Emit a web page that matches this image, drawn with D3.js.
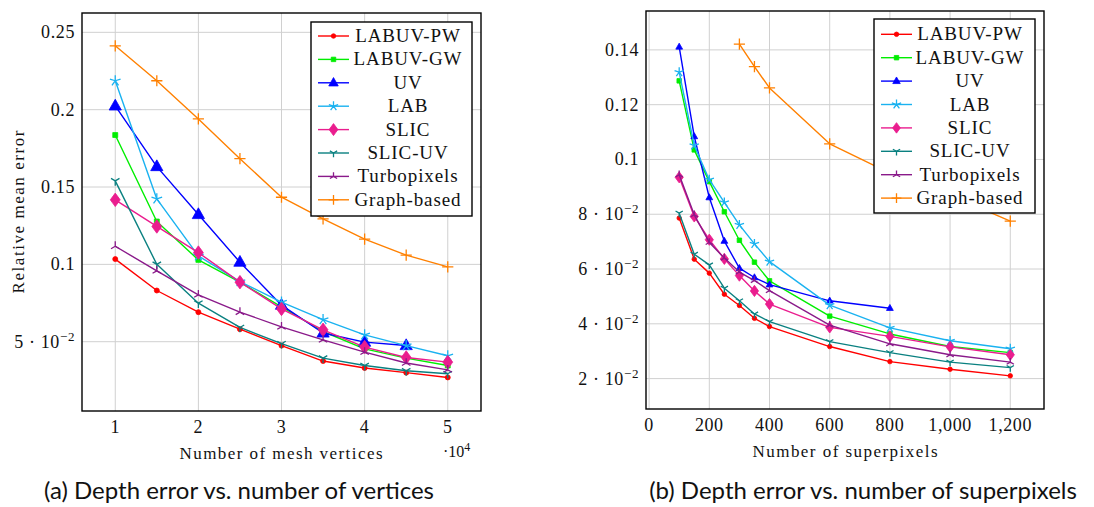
<!DOCTYPE html>
<html><head><meta charset="utf-8">
<script src="https://cdn.jsdelivr.net/npm/d3@7"></script>
<style>
body{margin:0;background:#fff;}
svg{display:block;}
text{font-family:"Liberation Serif","DejaVu Serif",serif;fill:#111;}
</style></head><body>
<svg id="c" width="1094" height="507"></svg>
<script>
// ---------- DATA ----------
const seriesNames = ["LABUV-PW","LABUV-GW","UV","LAB","SLIC","SLIC-UV","Turbopixels","Graph-based"];

// Panel (a): x in units of 10^4 mesh vertices
const verticesX = [1,1.5,2,2.5,3,3.5,4,4.5,5];
const vLabuvPW   = [0.1034,0.0831,0.0691,0.0581,0.0475,0.0375,0.0330,0.0300,0.0269];
const vLabuvGW   = [0.1836,0.1277,0.1029,0.0885,0.0725,0.0566,0.0454,0.0394,0.0346];
const vUV        = [0.2024,0.1632,0.1322,0.1014,0.0736,0.0556,0.0497,0.0475];
const vLAB       = [0.2187,0.1423,0.1055,0.0889,0.0756,0.0643,0.0544,0.0475,0.0409];
const vSLIC      = [0.1417,0.1245,0.1076,0.0885,0.0712,0.0577,0.0465,0.0398,0.0368];
const vSLICUV    = [0.1540,0.1000,0.0749,0.0592,0.0487,0.0394,0.0346,0.0312,0.0293];
const vTurbo     = [0.1117,0.0958,0.0803,0.0691,0.0596,0.0512,0.0433,0.0362,0.0318];
const vGraph     = [0.2413,0.2187,0.1940,0.1683,0.1434,0.1294,0.1163,0.1060,0.0984];

// Panel (b): x = number of superpixels
const spX      = [100,150,200,250,300,350,400,600,800,1000,1200];
const spGraphX = [300,350,400,600,800,1000,1200];
const sLabuvPW = [0.0786,0.0636,0.0585,0.0508,0.0467,0.0420,0.0390,0.0317,0.0262,0.0234,0.0210];
const sLabuvGW = [0.1287,0.1035,0.0919,0.0809,0.0705,0.0625,0.0557,0.0428,0.0363,0.0317,0.0295];
const sUV      = [0.1411,0.1084,0.0861,0.0702,0.0603,0.0569,0.0543,0.0484,0.0457];
const sLAB     = [0.1319,0.1051,0.0926,0.0843,0.0761,0.0692,0.0627,0.0468,0.0385,0.0338,0.0309];
const sSLIC    = [0.0935,0.0792,0.0707,0.0637,0.0576,0.0520,0.0472,0.0387,0.0354,0.0316,0.0287];
const sSLICUV  = [0.0804,0.0654,0.0615,0.0530,0.0484,0.0436,0.0408,0.0335,0.0295,0.0260,0.0240];
const sTurbo   = [0.0944,0.0798,0.0697,0.0640,0.0589,0.0558,0.0521,0.0395,0.0327,0.0287,0.0260];
const sGraph   = [0.1421,0.1339,0.1261,0.1057,0.0950,0.0870,0.0775];

// Tick values / labels
const aXTicks = [1,2,3,4,5];
const aYTicks = [0.05,0.1,0.15,0.2,0.25];
const aYLabels = [["5 · 10","−2"],["0.1"],["0.15"],["0.2"],["0.25"]];
const bXTicks = [0,200,400,600,800,1000,1200];
const bXLabels = ["0","200","400","600","800","1,000","1,200"];
const bYTicks = [0.02,0.04,0.06,0.08,0.1,0.12,0.14];
const bYLabels = [["2 · 10","−2"],["4 · 10","−2"],["6 · 10","−2"],["8 · 10","−2"],["0.1"],["0.12"],["0.14"]];

// ---------- STYLE ----------
const colors  = ["#ff0000","#00ee00","#0000ff","#1ab2f0","#ea1d8e","#0a8080","#8a1a8a","#ff8000"];
const markers = ["circle","square","triangle","star","diamond","ystar","tristar","plus"];
const SERIF = "'Liberation Serif','DejaVu Serif',serif";

const svg = d3.select("#c");

function markerPath(type, s){
  const p = d3.path();
  switch(type){
    case "circle": p.arc(0,0,s*0.5,0,2*Math.PI); break;
    case "square": p.rect(-s*0.45,-s*0.45,s*0.9,s*0.9); break;
    case "triangle": p.moveTo(0,-s*0.75); p.lineTo(s*0.68,s*0.45); p.lineTo(-s*0.68,s*0.45); p.closePath(); break;
    case "diamond": p.moveTo(0,-s*0.75); p.lineTo(s*0.55,0); p.lineTo(0,s*0.75); p.lineTo(-s*0.55,0); p.closePath(); break;
    case "star": for(let i=0;i<5;i++){const a=-Math.PI/2+i*2*Math.PI/5; p.moveTo(0,0); p.lineTo(s*0.7*Math.cos(a), s*0.7*Math.sin(a));} break;
    case "ystar": for(let i=0;i<3;i++){const a=Math.PI/2+i*2*Math.PI/3; p.moveTo(0,0); p.lineTo(s*0.7*Math.cos(a), s*0.7*Math.sin(a));} break;
    case "tristar": for(let i=0;i<3;i++){const a=-Math.PI/2+i*2*Math.PI/3; p.moveTo(0,0); p.lineTo(s*0.7*Math.cos(a), s*0.7*Math.sin(a));} break;
    case "plus": p.moveTo(-s*0.7,0); p.lineTo(s*0.7,0); p.moveTo(0,-s*0.7); p.lineTo(0,s*0.7); break;
  }
  return p.toString();
}
const filled = t => ["circle","square","triangle","diamond"].includes(t);

function drawMarker(g, type, color, x, y, s){
  g.append("path").attr("d", markerPath(type,s))
    .attr("transform",`translate(${x},${y})`)
    .attr("fill", filled(type)?color:"none")
    .attr("stroke", color).attr("stroke-width", filled(type)?0.8:1.3);
}

function tickLabel(g, parts, x, y, anchor){
  const t = g.append("text").attr("x",x).attr("y",y).attr("text-anchor",anchor)
    .attr("font-size",18).style("font-family",SERIF).style("letter-spacing","0.6px");
  t.append("tspan").text(parts[0]);
  if(parts.length>1) t.append("tspan").attr("dy",-7).attr("font-size",13).text(parts[1]);
}

function panel(cfg){
  const {x0,x1,y0,y1,xDom,yDom,xTicks,xLabels,yTicks,yLabels,series,ms} = cfg;
  const x = d3.scaleLinear().domain(xDom).range([x0,x1]);
  const y = d3.scaleLinear().domain(yDom).range([y1,y0]);
  const g = svg.append("g");
  // grid
  g.selectAll(".gx").data(xTicks).join("line")
    .attr("x1",d=>x(d)).attr("x2",d=>x(d)).attr("y1",y0).attr("y2",y1)
    .attr("stroke","#d0d0d0").attr("stroke-width",1);
  g.selectAll(".gy").data(yTicks).join("line")
    .attr("x1",x0).attr("x2",x1).attr("y1",d=>y(d)).attr("y2",d=>y(d))
    .attr("stroke","#d0d0d0").attr("stroke-width",1);
  // axes (d3 axes for tick positions, labels custom)
  const xa = d3.axisBottom(x).tickValues(xTicks).tickSize(0).tickFormat("");
  g.append("g").attr("transform",`translate(0,${y1})`).call(xa).call(s=>s.select(".domain").remove());
  const ya = d3.axisLeft(y).tickValues(yTicks).tickSize(0).tickFormat("");
  g.append("g").attr("transform",`translate(${x0},0)`).call(ya).call(s=>s.select(".domain").remove());
  xTicks.forEach((v,i)=>{
    g.append("text").attr("x",x(v)).attr("y",y1+22).attr("text-anchor","middle").attr("font-size",18)
      .style("font-family",SERIF).style("letter-spacing","0.6px").text(xLabels[i]);
  });
  yTicks.forEach((v,i)=>{ tickLabel(g, yLabels[i], x0-7, y(v)+6, "end"); });
  // series
  const clip = "clip"+x0;
  svg.append("clipPath").attr("id",clip).append("rect").attr("x",x0).attr("y",y0).attr("width",x1-x0).attr("height",y1-y0);
  const pg = g.append("g").attr("clip-path",`url(#${clip})`);
  const line = d3.line().x(d=>x(d[0])).y(d=>y(d[1]));
  series.forEach((s,i)=>{
    const pts = s.ys.map((v,j)=>[s.xs[j],v]);
    pg.append("path").attr("d",line(pts)).attr("fill","none")
      .attr("stroke",colors[i]).attr("stroke-width",1.4).attr("stroke-linejoin","round");
    pts.forEach(p=>drawMarker(pg, markers[i], colors[i], x(p[0]), y(p[1]), ms[markers[i]]||ms.def));
  });
  // frame
  g.append("rect").attr("x",x0).attr("y",y0).attr("width",x1-x0).attr("height",y1-y0)
    .attr("fill","none").attr("stroke","#000").attr("stroke-width",1.4);
  return {g,x,y};
}

function legend(lx0,ly0,lx1,ly1,firstY,step,lineX0,lineX1,textX,ms){
  const g = svg.append("g");
  g.append("rect").attr("x",lx0).attr("y",ly0).attr("width",lx1-lx0).attr("height",ly1-ly0)
    .attr("fill","#fff").attr("stroke","#000").attr("stroke-width",1.4);
  seriesNames.forEach((n,i)=>{
    const yy = firstY + i*step;
    g.append("line").attr("x1",lineX0).attr("x2",lineX1).attr("y1",yy).attr("y2",yy)
      .attr("stroke",colors[i]).attr("stroke-width",1.4);
    drawMarker(g, markers[i], colors[i], (lineX0+lineX1)/2, yy, ms[markers[i]]||ms.def);
    g.append("text").attr("x",textX).attr("y",yy+6).attr("text-anchor","middle").attr("font-size",19)
      .style("letter-spacing","0.9px").text(n);
  });
}

// ---------- PANEL A ----------
const msA = {def:6, circle:5, square:5.5, triangle:9, diamond:9, star:8, ystar:7, tristar:7, plus:8};
const A = panel({x0:82,x1:481,y0:13,y1:411,xDom:[0.6,5.4],yDom:[0.0052,0.2625],
  xTicks:aXTicks,xLabels:aXTicks.map(String),yTicks:aYTicks,yLabels:aYLabels,
  series:[
    {xs:verticesX,ys:vLabuvPW},{xs:verticesX,ys:vLabuvGW},{xs:verticesX,ys:vUV},{xs:verticesX,ys:vLAB},
    {xs:verticesX,ys:vSLIC},{xs:verticesX,ys:vSLICUV},{xs:verticesX,ys:vTurbo},{xs:verticesX,ys:vGraph}],
  ms:msA});
legend(311,22,472,216,36,23.4,318,349,408,{def:6, circle:4.5, square:5, triangle:7, diamond:8, star:7, ystar:6, tristar:6, plus:7});
svg.append("text").attr("x",281).attr("y",459).attr("text-anchor","middle").attr("font-size",17)
  .attr("textLength",203).attr("lengthAdjust","spacing").text("Number of mesh vertices");
const pw = svg.append("text").attr("x",443).attr("y",457).attr("font-size",16);
pw.append("tspan").text("·10");
pw.append("tspan").attr("dy",-6).attr("font-size",12).text("4");
svg.append("text").attr("transform","translate(24,212) rotate(-90)").attr("text-anchor","middle").attr("font-size",17)
  .attr("textLength",163).attr("lengthAdjust","spacing").text("Relative mean error");

// ---------- PANEL B ----------
const msB = {def:5, circle:4.5, square:5, triangle:5, diamond:7.5, star:7, ystar:6, tristar:6, plus:8};
const B = panel({x0:646,x1:1044,y0:11,y1:409,xDom:[-10.3,1312],yDom:[0.0089,0.1542],
  xTicks:bXTicks,xLabels:bXLabels,yTicks:bYTicks,yLabels:bYLabels,
  series:[
    {xs:spX,ys:sLabuvPW},{xs:spX,ys:sLabuvGW},{xs:spX,ys:sUV},{xs:spX,ys:sLAB},
    {xs:spX,ys:sSLIC},{xs:spX,ys:sSLICUV},{xs:spX,ys:sTurbo},{xs:spGraphX,ys:sGraph}],
  ms:msB});
legend(874,19,1035,213,34.3,23.4,881,912,970,{def:5, circle:4.5, square:5, triangle:5.5, diamond:7, star:7, ystar:6, tristar:6, plus:7});
svg.append("text").attr("x",845).attr("y",457).attr("text-anchor","middle").attr("font-size",17)
  .attr("textLength",185).attr("lengthAdjust","spacing").text("Number of superpixels");

// ---------- CAPTIONS ----------
svg.append("text").attr("x",239).attr("y",499).attr("text-anchor","middle").attr("font-size",24)
  .style("font-family","Lato, 'Noto Sans', sans-serif").text("(a) Depth error vs. number of vertices");
svg.append("text").attr("x",863).attr("y",499).attr("text-anchor","middle").attr("font-size",24)
  .style("font-family","Lato, 'Noto Sans', sans-serif").text("(b) Depth error vs. number of superpixels");
</script>
</body></html>
